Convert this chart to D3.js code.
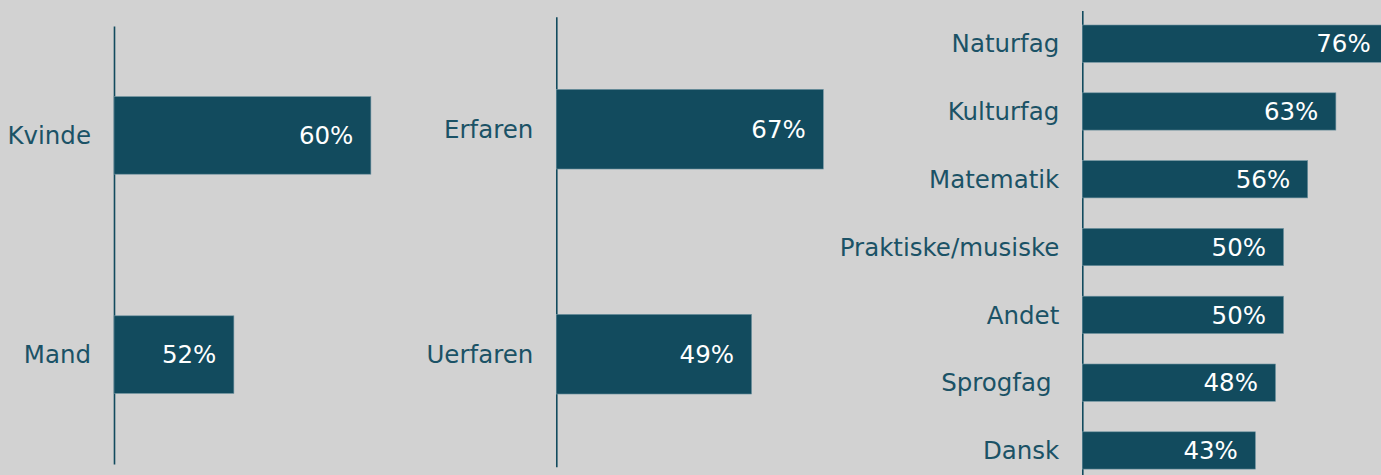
<!DOCTYPE html>
<html>
<head>
<meta charset="utf-8">
<script src="https://cdn.jsdelivr.net/npm/d3@7"></script>
<style>
  html, body { margin: 0; padding: 0; background: #d2d2d2; }
  svg { display: block; font-family: "DejaVu Sans", Verdana, sans-serif; }
</style>
</head>
<body>
<svg id="chart" width="1381" height="475"></svg>
<script>
// datos
const genderCats = ['Kvinde', 'Mand'];
const genderVals = [60, 52];

const expCats = ['Erfaren', 'Uerfaren'];
const expVals = [67, 49];

const subjectCats = ['Naturfag', 'Kulturfag', 'Matematik', 'Praktiske/musiske', 'Andet', 'Sprogfag ', 'Dansk'];
const subjectVals = [76, 63, 56, 50, 50, 48, 43];

const barColor = '#124b5e';
const textColor = '#1b5266';
const fontSize = '24.5px';

let svg = d3.select('#chart');

// un panel por grupo
function panel(cats, vals, x, y) {
  let g = svg.append('g');
  const rows = cats.map((c, i) => ({ cat: c, val: vals[i] }));

  let axis = g.append('g')
    .attr('transform', `translate(${x.range()[0]},0)`)
    .call(d3.axisLeft(y).tickSize(0).tickSizeOuter(0).tickPadding(23));
  axis.select('.domain')
    .attr('stroke', barColor)
    .attr('stroke-width', 1.6);
  axis.selectAll('text')
    .attr('fill', textColor)
    .attr('dy', '0.36em')
    .style('font-size', fontSize)
    .style('font-family', '"DejaVu Sans", Verdana, sans-serif')
    .style('white-space', 'pre');

  g.selectAll('rect').data(rows).enter()
    .append('rect')
    .attr('x', x.range()[0])
    .attr('y', d => y(d.cat))
    .attr('width', d => x(d.val) - x.range()[0])
    .attr('height', y.bandwidth())
    .attr('fill', barColor)
    .attr('stroke', '#6f93a0')
    .attr('stroke-width', 0.6);

  g.selectAll('text.val').data(rows).enter()
    .append('text')
    .attr('class', 'val')
    .attr('x', d => x(d.val) - 17.5)
    .attr('y', d => y(d.cat) + y.bandwidth() / 2)
    .attr('dy', '0.36em')
    .attr('text-anchor', 'end')
    .attr('fill', '#ffffff')
    .style('font-size', fontSize)
    .text(d => d.val + '%');
}

// Kvinde / Mand (la escala no empieza en 0)
let x1 = d3.scaleLinear().domain([45, 100]).range([114, 114 + 55 * 17.125]);
let y1 = d3.scaleBand().domain(genderCats).range([26, 464]).paddingInner(0.646).paddingOuter(0.322);
panel(genderCats, genderVals, x1, y1);

// Erfaren / Uerfaren
let x2 = d3.scaleLinear().domain([0, 100]).range([556.3, 556.3 + 398.5]);
let y2 = d3.scaleBand().domain(expCats).range([16.7, 466.7]).paddingInner(0.646).paddingOuter(0.323);
panel(expCats, expVals, x2, y2);

// fag
let x3 = d3.scaleLinear().domain([0, 100]).range([1082.3, 1082.3 + 402.5]);
let y3 = d3.scaleBand().domain(subjectCats).range([10.5, 483.6]).paddingInner(0.45).paddingOuter(0.214);
panel(subjectCats, subjectVals, x3, y3);
</script>
</body>
</html>
